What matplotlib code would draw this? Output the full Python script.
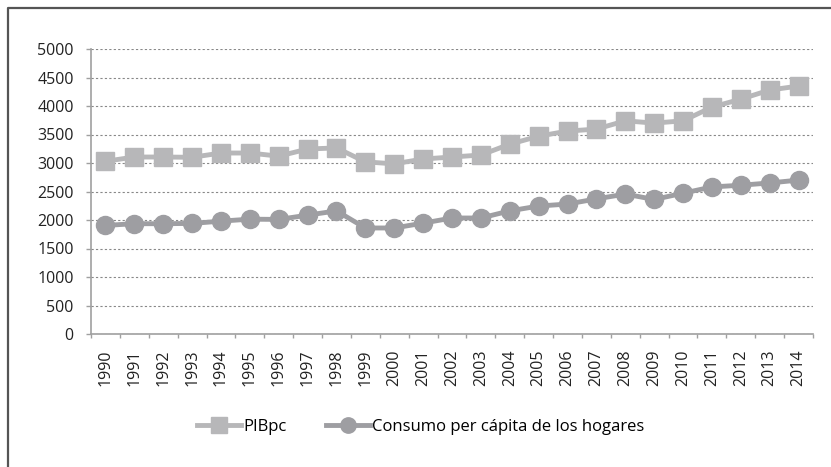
import numpy as np
import matplotlib.pyplot as plt
from matplotlib.lines import Line2D

years = [str(y) for y in range(1990, 2015)]
pibpc = [3030, 3105, 3105, 3100, 3175, 3175, 3120, 3245, 3265, 3020, 2985,
         3070, 3105, 3140, 3330, 3470, 3560, 3595, 3740, 3700, 3740,
         3980, 4120, 4280, 4350]
consumo = [1905, 1935, 1935, 1940, 1980, 2015, 2010, 2085, 2160, 1860, 1860,
           1945, 2035, 2035, 2160, 2245, 2280, 2370, 2455, 2360, 2470,
           2580, 2610, 2650, 2700]
yticks = list(range(0, 5001, 500))

plt.rcParams['font.family'] = ['Open Sans', 'DejaVu Sans']

W, H = 831, 467
fig = plt.figure(figsize=(W / 100, H / 100), dpi=100)
ax = fig.add_axes([91 / W, 1 - 334 / H, (813 - 91) / W, (334 - 49) / H])

# outer frame: top and left edges only
fig.lines.append(Line2D([8 / W, 8 / W, 1.0], [0.0, 1 - 8 / H, 1 - 8 / H],
                        transform=fig.transFigure, color='#555555',
                        linewidth=1.6))

x = np.arange(len(years))
ax.plot(x, pibpc, color='#b7b7b9', linewidth=3.5, marker='s', markersize=13,
        label='PIBpc')
ax.plot(x, consumo, color='#9e9ea2', linewidth=3.5, marker='o', markersize=13,
        label='Consumo per cápita de los hogares')

ax.set_xlim(-0.5, len(years) - 0.5)
ax.set_ylim(0, 5000)
ax.set_yticks(yticks)
ax.set_yticklabels([str(v) for v in yticks], fontsize=11.5, color='#222222')
ax.set_xticks(x)
ax.set_xticklabels(years, rotation=90, fontsize=11.5, color='#222222')
ax.tick_params(axis='x', length=0, pad=11)
ax.set_xticks(np.arange(-0.5, len(years), 1), minor=True)
ax.tick_params(axis='x', which='minor', length=3, color='#a0a0a0', width=1)
ax.tick_params(axis='y', length=3.5, color='#a0a0a0', width=1, pad=9)

ax.yaxis.grid(True, linestyle=(0, (2, 2)), color='#888888', linewidth=0.8)
ax.set_axisbelow(True)
for s in ['top', 'right']:
    ax.spines[s].set_visible(False)
for s in ['left', 'bottom']:
    ax.spines[s].set_color('#a0a0a0')
    ax.spines[s].set_linewidth(1.2)

fig.legend(loc='center', bbox_to_anchor=(421 / W, 1 - 427 / H), ncol=2,
           frameon=False, fontsize=12, handlelength=2.6, columnspacing=2.4,
           handletextpad=0.15, markerscale=0.85)

fig.savefig('out.png', dpi=100)
